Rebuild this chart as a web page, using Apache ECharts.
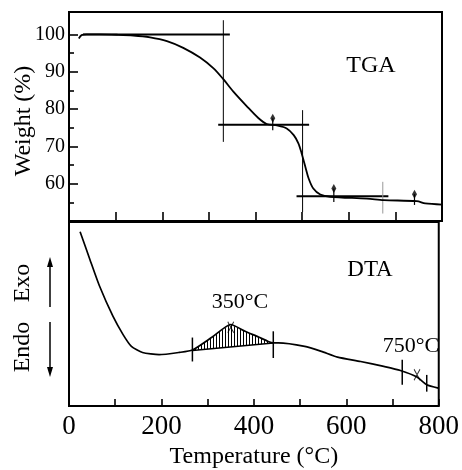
<!DOCTYPE html>
<html>
<head>
<meta charset="utf-8">
<script src="https://cdn.jsdelivr.net/npm/echarts@6/dist/echarts.min.js"></script>
<style>
html,body{margin:0;padding:0;background:#fff;}
#chart{width:462px;height:470px;}
</style>
</head>
<body>
<div id="chart"></div>
<script>
// ---------- DATA ----------
// TGA curve (Temperature °C, Weight %)
var tgaT = [21, 27, 38, 66, 102, 138, 174, 210, 245, 281, 310, 331, 353, 381, 406, 424, 446, 467, 482, 492, 499, 507, 514, 524, 539, 560, 639, 675, 746, 764, 800];
var tgaW = [98.9, 99.8, 100, 100, 99.9, 99.7, 99.2, 98.2, 96.4, 93.8, 90.9, 88.0, 84.6, 80.8, 77.6, 76.0, 75.6, 74.8, 73.0, 70.8, 68.1, 64.5, 61.4, 58.7, 57.1, 56.5, 56.0, 55.6, 55.3, 54.7, 54.4];
// TGA tangent construction lines
var tgaHLineY  = [100, 75.8, 56.6];
var tgaHLineX1 = [30, 320, 488];
var tgaHLineX2 = [345, 515, 685];
var tgaVLineX  = [331, 501];
var tgaVLineY1 = [103.8, 79.7];
var tgaVLineY2 = [71.2, 52.4];
var tgaGreyLineX = [673];
var tgaGreyLineY1 = [60.5];
var tgaGreyLineY2 = [52.0];
// TGA step markers
var tgaMarkT = [437, 568, 741];
var tgaMarkW = [77.5, 58.7, 57.2];
var tgaMarkStemW = [74.3, 55.1, 54.3];

// DTA curve (Temperature °C, relative signal)
var dtaT = [24, 45, 66, 95, 117, 135, 159, 195, 238, 267, 310, 350, 381, 410, 431, 442, 453, 510, 546, 581, 631, 681, 717, 753, 774, 799];
var dtaV = [94.7, 79.8, 65.2, 48.8, 38.8, 32.4, 29.1, 27.9, 29.1, 30.4, 37.5, 44.3, 40.6, 37.5, 35.1, 34.3, 34.3, 32.4, 29.7, 26.6, 24.2, 21.5, 19.3, 15.7, 11.5, 9.7];
// DTA exothermic peak (hatched) and its baseline
var peakT = [267, 310, 350, 381, 410, 431, 442];
var peakV = [30.4, 37.5, 44.3, 40.6, 37.5, 35.1, 34.3];
var baseT = [267, 442];
var baseV = [30.2, 34.3];
// DTA bracket marks and peak marks
var bracketT  = [267, 442, 721, 774];
var bracketV1 = [37.2, 40.6, 25.1, 16.9];
var bracketV2 = [24.2, 26.1, 11.5, 7.8];
var peakMarkT = [350, 753];
var peakMarkV = [42.8, 17.0];

// Axis ticks / labels
var xTickLabels = [0, 200, 400, 600, 800];
var yTickLabels = [60, 70, 80, 90, 100];
var yMajorTicks = [50, 60, 70, 80, 90, 100];
var yMinorTicks = [55, 65, 75, 85, 95];

// ---------- CHART ----------
var FONT = 'Liberation Serif';
function zip(a, b) { return a.map(function (v, i) { return [v, b[i]]; }); }

function segRender(color, width) {
  return function (params, api) {
    var p1 = api.coord([api.value(0), api.value(1)]);
    var p2 = api.coord([api.value(2), api.value(3)]);
    return { type: 'line', shape: { x1: p1[0], y1: p1[1], x2: p2[0], y2: p2[1] },
      style: { stroke: color, lineWidth: width } };
  };
}
function segSeries(data, xi, yi, color, width) {
  return { type: 'custom', xAxisIndex: xi, yAxisIndex: yi, clip: false, silent: true,
    encode: { x: [0, 2], y: [1, 3] }, data: data, renderItem: segRender(color, width), z: 3 };
}

var hSegs = tgaHLineY.map(function (y, i) { return [tgaHLineX1[i], y, tgaHLineX2[i], y]; });
var vSegs = tgaVLineX.map(function (x, i) { return [x, tgaVLineY1[i], x, tgaVLineY2[i]]; });
var gSegs = tgaGreyLineX.map(function (x, i) { return [x, tgaGreyLineY1[i], x, tgaGreyLineY2[i]]; });
var stemSegs = tgaMarkT.map(function (x, i) { return [x, tgaMarkW[i], x, tgaMarkStemW[i]]; });
var bracketSegs = bracketT.map(function (x, i) { return [x, bracketV1[i], x, bracketV2[i]]; });

// hatch pattern
var pat = document.createElement('canvas');
pat.width = 3; pat.height = 4;
var pctx = pat.getContext('2d');
pctx.fillStyle = '#000';
pctx.fillRect(0, 0, 1, 4);

var chart = echarts.init(document.getElementById('chart'), null, { renderer: 'canvas' });
var tickStyle = { color: '#000', width: 1.6 };

chart.setOption({
  animation: false,
  backgroundColor: '#fff',
  textStyle: { fontFamily: FONT, color: '#000' },
  grid: [
    { left: 69, top: 12, width: 373, height: 209, show: true, borderColor: '#000', borderWidth: 2, backgroundColor: 'transparent' },
    { left: 69, top: 222, width: 373, height: 184, show: true, borderColor: '#000', borderWidth: 2, backgroundColor: 'transparent' }
  ],
  xAxis: [
    { type: 'value', gridIndex: 0, min: 0, max: 800, interval: 100,
      axisLine: { show: false }, splitLine: { show: false },
      axisTick: { inside: true, length: 9, lineStyle: tickStyle },
      axisLabel: { show: false } },
    { type: 'value', gridIndex: 1, min: 0, max: 800, interval: 100,
      axisLine: { show: false }, splitLine: { show: false },
      axisTick: { inside: true, length: 7, lineStyle: tickStyle },
      axisLabel: { customValues: xTickLabels, fontFamily: FONT, fontSize: 27, color: '#000', margin: 7 },
      name: 'Temperature (°C)', nameLocation: 'middle', nameGap: 39,
      nameTextStyle: { fontFamily: FONT, fontSize: 24, color: '#000' } }
  ],
  yAxis: [
    { type: 'value', gridIndex: 0, min: 50, max: 106, interval: 10,
      axisLine: { show: false }, splitLine: { show: false },
      axisTick: { inside: true, length: 9, customValues: yMajorTicks, lineStyle: tickStyle },
      axisLabel: { customValues: yTickLabels, fontFamily: FONT, fontSize: 20, color: '#000', margin: 4 } },
    { type: 'value', gridIndex: 0, min: 50, max: 106, interval: 10, position: 'left',
      axisLine: { show: false }, splitLine: { show: false },
      axisTick: { inside: true, length: 5, customValues: yMinorTicks, lineStyle: tickStyle },
      axisLabel: { show: false } },
    { type: 'value', gridIndex: 1, min: 0, max: 100, show: false }
  ],
  series: [
    { type: 'line', xAxisIndex: 0, yAxisIndex: 0, data: zip(tgaT, tgaW), showSymbol: false, smooth: 0.3,
      lineStyle: { color: '#000', width: 1.8 }, z: 4 },
    segSeries(hSegs, 0, 0, '#000', 2),
    segSeries(vSegs, 0, 0, '#000', 1),
    segSeries(gSegs, 0, 0, '#999', 1),
    segSeries(stemSegs, 0, 0, '#000', 1.2),
    { type: 'scatter', xAxisIndex: 0, yAxisIndex: 0, data: zip(tgaMarkT, tgaMarkW),
      symbol: 'diamond', symbolSize: [5, 9], itemStyle: { color: '#000' }, z: 5 },

    { type: 'line', xAxisIndex: 1, yAxisIndex: 2, data: zip(dtaT, dtaV), showSymbol: false, smooth: 0.2,
      lineStyle: { color: '#000', width: 1.7 }, z: 4 },
    { type: 'custom', xAxisIndex: 1, yAxisIndex: 2, clip: false, silent: true, data: [[0]],
      renderItem: function (params, api) {
        var pts = [];
        for (var i = 0; i < peakT.length; i++) pts.push(api.coord([peakT[i], peakV[i]]));
        for (var j = baseT.length - 1; j >= 0; j--) pts.push(api.coord([baseT[j], baseV[j]]));
        return { type: 'polygon', shape: { points: pts }, style: { fill: { image: pat, repeat: 'repeat' }, stroke: null } };
      }, z: 3 },
    { type: 'line', xAxisIndex: 1, yAxisIndex: 2, data: zip(baseT, baseV), showSymbol: false,
      lineStyle: { color: '#000', width: 1.5 }, z: 4 },
    segSeries(bracketSegs, 1, 2, '#000', 1.5),
    { type: 'scatter', xAxisIndex: 1, yAxisIndex: 2, data: zip(peakMarkT, peakMarkV),
      symbol: 'path://M0,0L6,12M6,0L0,12', symbolSize: [6, 11],
      itemStyle: { color: 'none', borderColor: '#000', borderWidth: 1.2 }, z: 5 }
  ],
  graphic: [
    { type: 'text', x: 24, y: 121, rotation: Math.PI / 2,
      style: { text: 'Weight (%)', font: '24px "Liberation Serif"', fill: '#000', align: 'center', verticalAlign: 'middle' } },
    { type: 'text', x: 23, y: 283, rotation: Math.PI / 2,
      style: { text: 'Exo', font: '24px "Liberation Serif"', fill: '#000', align: 'center', verticalAlign: 'middle' } },
    { type: 'text', x: 23, y: 347, rotation: Math.PI / 2,
      style: { text: 'Endo', font: '24px "Liberation Serif"', fill: '#000', align: 'center', verticalAlign: 'middle' } },
    { type: 'line', shape: { x1: 50, y1: 307, x2: 50, y2: 264 }, style: { stroke: '#000', lineWidth: 1.5 } },
    { type: 'polygon', shape: { points: [[50, 257], [47, 267], [53, 267]] }, style: { fill: '#000' } },
    { type: 'line', shape: { x1: 50, y1: 322, x2: 50, y2: 370 }, style: { stroke: '#000', lineWidth: 1.5 } },
    { type: 'polygon', shape: { points: [[50, 377], [47, 367], [53, 367]] }, style: { fill: '#000' } },
    { type: 'text', x: 371, y: 66,
      style: { text: 'TGA', font: '24px "Liberation Serif"', fill: '#000', align: 'center', verticalAlign: 'middle' } },
    { type: 'text', x: 370, y: 270,
      style: { text: 'DTA', font: '23px "Liberation Serif"', fill: '#000', align: 'center', verticalAlign: 'middle' } },
    { type: 'text', x: 240, y: 302,
      style: { text: '350°C', font: '22px "Liberation Serif"', fill: '#000', align: 'center', verticalAlign: 'middle' } },
    { type: 'text', x: 411, y: 346,
      style: { text: '750°C', font: '22px "Liberation Serif"', fill: '#000', align: 'center', verticalAlign: 'middle' } }
  ]
});
</script>
</body>
</html>
